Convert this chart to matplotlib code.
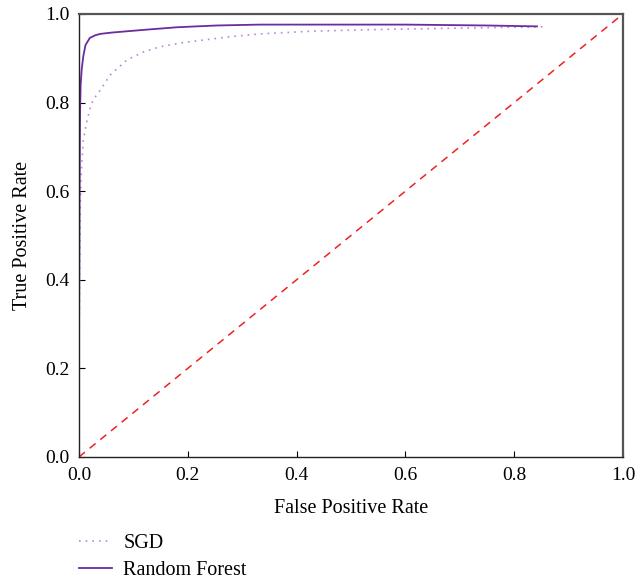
import matplotlib.pyplot as plt
import numpy as np

plt.rcParams['font.family'] = ['Liberation Serif', 'DejaVu Serif']

# ROC points
sgd_fpr = [0.0, 0.002, 0.004, 0.008, 0.014, 0.02, 0.026, 0.039, 0.057, 0.088,
           0.118, 0.149, 0.19, 0.228, 0.28, 0.333, 0.425, 0.55, 0.7, 0.855]
sgd_tpr = [0.23, 0.55, 0.64, 0.716, 0.755, 0.785, 0.806, 0.828, 0.862, 0.896,
           0.914, 0.926, 0.935, 0.941, 0.949, 0.955, 0.961, 0.965, 0.968, 0.971]

rf_fpr = [0.0, 0.001, 0.002, 0.003, 0.005, 0.008, 0.012, 0.02, 0.03, 0.039, 0.06,
          0.118, 0.18, 0.253, 0.333, 0.45, 0.6, 0.75, 0.842]
rf_tpr = [0.23, 0.6, 0.78, 0.84, 0.875, 0.905, 0.93, 0.946, 0.952, 0.955, 0.958,
          0.964, 0.97, 0.974, 0.976, 0.976, 0.976, 0.974, 0.972]

#create window
fig = plt.figure(figsize=(6.37, 5.82), dpi=100)
ax = fig.add_axes([0.124, 0.2148, 0.854, 0.7612])

sgd_line, = ax.plot(sgd_fpr, sgd_tpr, linestyle=(0, (1, 3)), color='#b888d8', lw=1.2, label='SGD')
rf_line, = ax.plot(rf_fpr, rf_tpr, color='#6a2c9e', lw=1.3, label='Random Forest')
ax.plot([0, 1], [0, 1], linestyle=(0, (5, 4)), color='#ee2222', lw=1.1)

ax.set_xlim(0, 1)
ax.set_ylim(0, 1)
ax.set_xticks(np.arange(0, 1.01, 0.2))
ax.set_yticks(np.arange(0, 1.01, 0.2))
ax.tick_params(direction='in', length=4, labelsize=14, pad=7, top=False, right=False)
ax.set_xlabel('False Positive Rate', fontsize=14.5, labelpad=11)
ax.set_ylabel('True Positive Rate', fontsize=14.5, labelpad=9)

for side in ['top', 'right']:
    ax.spines[side].set_color('#555555')
    ax.spines[side].set_linewidth(1.6)
for side in ['left', 'bottom']:
    ax.spines[side].set_color('#222222')
    ax.spines[side].set_linewidth(1.0)

fig.legend(handles=[sgd_line, rf_line], loc='upper left', bbox_to_anchor=(0.124, 0.083),
           frameon=False, fontsize=14.5, handlelength=1.65, handletextpad=0.55, labelspacing=0.4,
           borderaxespad=0, borderpad=0)

fig.savefig('out.png', dpi=100)
